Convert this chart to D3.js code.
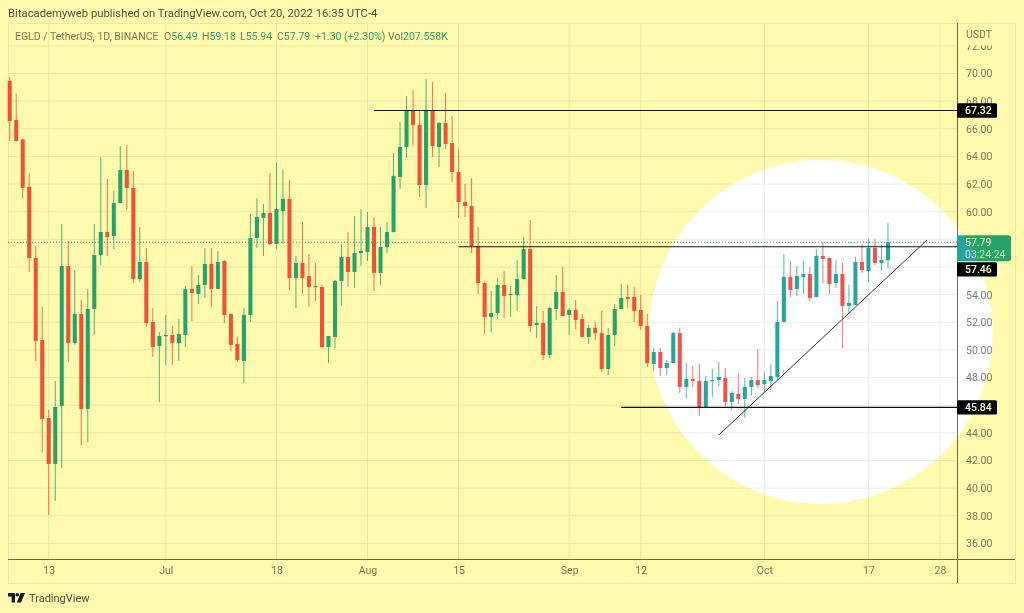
<!DOCTYPE html>
<html>
<head>
<meta charset="utf-8">
<title>EGLD / TetherUS</title>
<script src="https://cdn.jsdelivr.net/npm/d3@7"></script>
<style>
  html, body { margin: 0; padding: 0; background: #fff; }
  svg { display: block; }
  text { font-family: Roboto, "Liberation Sans", sans-serif; }
</style>
</head>
<body>
<svg id="chart" width="1024" height="613"></svg>
<script>
const width = 1024;
const height = 613;
const svg = d3.select("#chart");

const plot = { left: 8, top: 23, right: 957, bottom: 559, frameRight: 1015, frameBottom: 583 };

const upColor = "#26a69a";
const downColor = "#ef5350";
const gridColor = "#e9edf3";
const axisColor = "#6c6a5c";
const textColor = "#787b86";
const fontSize = "10.5px";

// date, open, high, low, close
const candles = [
  ["2022-06-07",69.46,69.75,65.12,66.56],["2022-06-08",66.64,68.52,65.05,65.12],["2022-06-09",65.23,65.30,60.99,61.72],
  ["2022-06-10",61.79,62.80,55.64,56.65],["2022-06-11",56.65,57.52,49.20,50.65],["2022-06-12",50.72,53.11,42.54,45.00],
  ["2022-06-13",45.07,45.65,38.06,41.75],["2022-06-14",41.75,47.75,39.07,45.87],["2022-06-15",45.94,59.11,41.46,56.07],
  ["2022-06-16",56.07,57.88,49.13,50.50],["2022-06-17",50.50,55.78,50.36,52.60],["2022-06-18",52.60,53.61,43.12,45.73],
  ["2022-06-19",45.73,54.41,43.34,52.96],["2022-06-20",52.96,59.11,51.08,56.87],["2022-06-21",56.87,63.96,56.15,58.53],
  ["2022-06-22",58.53,62.37,56.80,58.17],["2022-06-23",58.24,61.50,57.30,60.63],["2022-06-24",60.63,64.76,60.60,63.02],
  ["2022-06-25",63.02,64.83,60.12,61.72],["2022-06-26",61.72,62.95,54.84,55.13],["2022-06-27",55.13,58.89,54.91,56.36],
  ["2022-06-28",56.36,57.38,51.66,51.95],["2022-06-29",52.02,53.03,49.49,50.21],["2022-06-30",50.28,51.30,46.23,51.01],
  ["2022-07-01",51.04,52.53,48.91,51.08],["2022-07-02",51.08,51.73,48.91,50.50],["2022-07-03",50.50,52.24,49.20,51.15],
  ["2022-07-04",51.08,54.63,50.21,54.41],["2022-07-05",54.41,56.07,52.09,54.12],["2022-07-06",54.05,55.42,53.32,54.70],
  ["2022-07-07",54.70,57.38,53.76,56.22],["2022-07-08",56.22,57.38,53.11,54.41],["2022-07-09",54.41,57.16,54.38,56.36],
  ["2022-07-10",56.43,56.50,51.95,52.53],["2022-07-11",52.60,52.66,49.92,50.36],["2022-07-12",50.43,50.94,49.13,49.27],
  ["2022-07-13",49.20,53.03,47.61,52.53],["2022-07-14",52.53,59.84,52.02,58.10],["2022-07-15",58.10,60.99,57.38,59.62],
  ["2022-07-16",59.55,60.56,56.80,59.91],["2022-07-17",59.91,62.80,57.60,57.66],["2022-07-18",57.66,63.53,57.30,60.20],
  ["2022-07-19",60.05,63.02,57.66,60.92],["2022-07-20",60.92,62.30,54.34,55.20],["2022-07-21",55.20,56.80,53.03,56.29],
  ["2022-07-22",56.29,59.26,54.05,55.20],["2022-07-23",55.35,56.94,53.11,54.55],["2022-07-24",54.63,56.29,53.54,54.55],
  ["2022-07-25",54.55,54.70,50.15,50.21],["2022-07-26",50.21,51.01,49.05,51.01],["2022-07-27",50.94,55.06,50.14,54.99],
  ["2022-07-28",54.99,57.66,53.18,56.72],["2022-07-29",56.72,58.53,54.55,55.64],["2022-07-30",55.64,59.69,54.48,57.01],
  ["2022-07-31",57.01,60.20,56.07,57.16],["2022-08-01",57.09,59.98,56.43,58.89],["2022-08-02",58.89,59.62,54.26,55.57],
  ["2022-08-03",55.57,58.89,54.70,57.45],["2022-08-04",57.45,59.26,57.01,58.53],["2022-08-05",58.53,64.25,58.49,62.59],
  ["2022-08-06",62.51,66.49,61.64,64.68],["2022-08-07",64.68,68.37,63.89,67.29],["2022-08-08",67.29,68.81,64.76,66.28],
  ["2022-08-09",66.28,67.36,61.07,61.93],["2022-08-10",61.93,69.60,60.27,67.29],["2022-08-11",67.29,69.39,63.96,64.76],
  ["2022-08-12",64.68,66.49,63.24,66.42],["2022-08-13",66.42,68.59,64.54,64.90],["2022-08-14",64.97,66.93,62.15,62.87],
  ["2022-08-15",62.87,64.54,59.55,60.70],["2022-08-16",60.70,62.01,59.62,60.41],["2022-08-17",60.41,62.44,57.01,57.52],
  ["2022-08-18",57.52,58.89,54.05,54.84],["2022-08-19",54.84,54.90,51.15,52.38],["2022-08-20",52.38,54.26,51.30,52.67],
  ["2022-08-21",52.67,55.20,52.24,54.70],["2022-08-22",54.70,55.71,52.31,53.90],["2022-08-23",53.97,54.63,52.38,54.05],
  ["2022-08-24",53.97,56.50,52.82,55.13],["2022-08-25",55.13,58.17,55.10,57.30],["2022-08-26",57.30,59.40,51.30,51.73],
  ["2022-08-27",51.80,53.18,50.86,51.95],["2022-08-28",51.95,52.82,49.27,49.63],["2022-08-29",49.63,53.11,49.41,53.03],
  ["2022-08-30",52.96,55.42,52.16,54.19],["2022-08-31",54.19,56.00,52.42,52.45],["2022-09-01",52.53,53.03,51.08,52.89],
  ["2022-09-02",52.89,53.61,51.51,52.16],["2022-09-03",52.24,52.60,50.90,50.94],["2022-09-04",50.94,51.80,50.43,51.59],
  ["2022-09-05",51.59,52.02,50.72,51.22],["2022-09-06",51.22,52.82,48.40,48.62],["2022-09-07",48.62,51.59,48.18,51.08],
  ["2022-09-08",51.08,53.32,50.28,52.96],["2022-09-09",52.96,54.77,52.92,53.76],["2022-09-10",53.83,54.70,53.03,53.68],
  ["2022-09-11",53.83,54.55,52.02,52.82],["2022-09-12",52.89,53.97,51.44,51.73],["2022-09-13",51.73,52.60,48.76,49.05],
  ["2022-09-14",48.98,50.14,48.47,49.85],["2022-09-15",49.85,50.14,48.11,48.69],["2022-09-16",48.69,49.27,48.18,49.05],
  ["2022-09-17",49.05,51.30,49.02,51.22],["2022-09-18",51.22,51.59,46.88,47.32],["2022-09-19",47.32,49.05,46.52,47.90],
  ["2022-09-20",47.90,48.84,47.32,47.75],["2022-09-21",47.75,48.98,45.22,45.87],["2022-09-22",45.87,48.11,45.83,47.75],
  ["2022-09-23",47.75,48.62,46.59,47.82],["2022-09-24",47.82,49.13,47.39,48.04],["2022-09-25",47.97,48.69,45.94,46.23],
  ["2022-09-26",46.23,47.03,45.65,46.88],["2022-09-27",46.81,48.26,46.09,46.45],["2022-09-28",46.45,47.97,45.07,47.32],
  ["2022-09-29",47.32,48.04,46.67,47.82],["2022-09-30",47.82,50.07,47.24,47.46],["2022-10-01",47.53,48.40,46.96,47.82],
  ["2022-10-02",47.75,48.98,47.10,48.11],["2022-10-03",48.04,53.54,47.82,52.02],["2022-10-04",52.02,56.94,51.98,55.28],
  ["2022-10-05",55.28,56.43,53.83,54.34],["2022-10-06",54.41,56.07,53.90,55.35],["2022-10-07",55.28,56.43,54.05,55.49],
  ["2022-10-08",55.49,56.00,53.54,53.76],["2022-10-09",53.83,57.30,53.79,56.80],["2022-10-10",56.80,57.81,54.84,56.58],
  ["2022-10-11",56.65,56.70,54.05,54.77],["2022-10-12",54.84,56.50,54.48,55.49],["2022-10-13",55.49,56.29,50.14,53.18],
  ["2022-10-14",53.18,54.70,52.67,53.40],["2022-10-15",53.25,56.72,53.21,56.36],["2022-10-16",56.36,57.66,55.57,55.78],
  ["2022-10-17",55.71,58.03,54.91,57.38],["2022-10-18",57.38,58.03,56.15,56.29],["2022-10-19",56.29,57.59,55.71,56.50],
  ["2022-10-20",56.49,59.18,55.94,57.79]
].map(d => ({ date: new Date(d[0] + "T00:00:00Z"), open: d[1], high: d[2], low: d[3], close: d[4] }));

const day = s => new Date(s + "T00:00:00Z");

const x = d3.scaleUtc().domain([day("2022-06-07"), day("2022-10-28")]).range([9.7, 940]);
const y = d3.scaleLinear().domain([36, 70]).range([543.4, 73.5]);

const xTicks = ["2022-06-13", "2022-07-01", "2022-07-18", "2022-08-01", "2022-08-15", "2022-09-01", "2022-09-12", "2022-10-01", "2022-10-17", "2022-10-28"].map(day);
const yTicks = d3.range(36, 73, 2);
// these tick labels sit behind the price tags
const hiddenLabels = [46, 56, 58];

svg.append("rect").attr("width", width).attr("height", height).attr("fill", "#fff");

// frame around the pane and the axes
svg.append("rect")
  .attr("x", plot.left + 0.5).attr("y", plot.top + 0.5)
  .attr("width", plot.frameRight - plot.left).attr("height", plot.frameBottom - plot.top)
  .attr("fill", "none").attr("stroke", gridColor);

// grid
const grid = svg.append("g");
grid.selectAll("line.h").data(yTicks).enter().append("line")
  .attr("class", "h")
  .attr("x1", plot.left).attr("x2", plot.right)
  .attr("y1", d => y(d)).attr("y2", d => y(d))
  .attr("stroke", gridColor);
grid.selectAll("line.v").data(xTicks).enter().append("line")
  .attr("class", "v")
  .attr("x1", d => x(d)).attr("x2", d => x(d))
  .attr("y1", plot.top).attr("y2", plot.bottom)
  .attr("stroke", gridColor);

// last price line
svg.append("line")
  .attr("x1", plot.left).attr("x2", plot.right)
  .attr("y1", y(57.79)).attr("y2", y(57.79))
  .attr("stroke", upColor).attr("stroke-dasharray", "1,2");

// candles
const barWidth = (x(day("2022-06-08")) - x(day("2022-06-07"))) * 0.62;
const candle = svg.append("g").selectAll("g").data(candles).enter().append("g")
  .attr("fill", d => d.close >= d.open ? upColor : downColor)
  .attr("stroke", d => d.close >= d.open ? upColor : downColor);

candle.append("line")
  .attr("x1", d => x(d.date)).attr("x2", d => x(d.date))
  .attr("y1", d => y(d.high)).attr("y2", d => y(d.low))
  .attr("stroke-width", 1)
  .attr("stroke-opacity", 0.8);

candle.append("rect")
  .attr("x", d => x(d.date) - barWidth / 2)
  .attr("width", barWidth)
  .attr("y", d => y(Math.max(d.open, d.close)))
  .attr("height", d => Math.max(1.2, Math.abs(y(d.open) - y(d.close))))
  .attr("stroke", "none");

// drawn levels and trend line
const levels = [
  { price: 67.32, from: "2022-08-02" },
  { price: 57.46, from: "2022-08-15" },
  { price: 45.84, from: "2022-09-09" }
];
svg.selectAll("line.level").data(levels).enter().append("line")
  .attr("class", "level")
  .attr("x1", d => x(day(d.from))).attr("x2", plot.right)
  .attr("y1", d => y(d.price)).attr("y2", d => y(d.price))
  .attr("stroke", "#111").attr("stroke-width", 1.1);

svg.append("line")
  .attr("x1", x(day("2022-09-24"))).attr("y1", y(43.84))
  .attr("x2", x(day("2022-10-26"))).attr("y2", y(57.95))
  .attr("stroke", "#333").attr("stroke-width", 1);

// axes
svg.append("clipPath").attr("id", "yclip").append("rect")
  .attr("x", 0).attr("y", 45.5).attr("width", 66).attr("height", 515);

const yAxis = svg.append("g")
  .attr("transform", `translate(${plot.right},0)`)
  .attr("clip-path", "url(#yclip)")
  .call(d3.axisRight(y).tickValues(yTicks)
    .tickFormat(d => hiddenLabels.includes(d) ? "" : d.toFixed(2))
    .tickSize(0).tickPadding(9));
yAxis.select(".domain").remove();
yAxis.selectAll("text").attr("fill", textColor).style("font-size", fontSize).style("font-family", "Roboto");

const monthName = d3.utcFormat("%b");
const xAxis = svg.append("g")
  .attr("transform", `translate(0,${plot.bottom})`)
  .call(d3.axisBottom(x).tickValues(xTicks)
    .tickFormat(d => d.getUTCDate() === 1 ? monthName(d) : d.getUTCDate())
    .tickSize(0).tickPadding(8));
xAxis.select(".domain").remove();
xAxis.selectAll("text").attr("fill", textColor).style("font-size", fontSize).style("font-family", "Roboto");

svg.append("line").attr("x1", plot.left).attr("x2", plot.frameRight)
  .attr("y1", plot.bottom + 0.5).attr("y2", plot.bottom + 0.5).attr("stroke", axisColor);
svg.append("line").attr("x1", plot.right + 0.5).attr("x2", plot.right + 0.5)
  .attr("y1", plot.top).attr("y2", plot.frameBottom).attr("stroke", axisColor);

svg.append("text").attr("x", 966).attr("y", 38).attr("fill", textColor).style("font-size", fontSize).text("USDT");

// price tags on the axis; the 57.46 tag gets pushed down below the last price tag
const tags = [
  { price: 67.32, shift: 0 },
  { price: 57.46, shift: 22.6 },
  { price: 45.84, shift: 0 }
];
const tag = svg.selectAll("g.tag").data(tags).enter().append("g").attr("class", "tag")
  .attr("transform", d => `translate(${plot.right},${y(d.price) + d.shift})`);
tag.append("rect")
  .attr("x", 0).attr("width", 40)
  .attr("y", -7.2).attr("height", 14.4)
  .attr("rx", 1.5).attr("fill", "#000");
tag.append("text")
  .attr("x", 8).attr("y", 3.8)
  .attr("fill", "#fff").style("font-size", fontSize).style("font-weight", 500)
  .text(d => d.price.toFixed(2));

const lastY = y(57.79);
svg.append("path")
  .attr("d", `M${plot.right},${lastY - 7}h51a3,3 0 0 1 3,3v20a3,3 0 0 1 -3,3h-51z`)
  .attr("fill", upColor);
svg.append("text").attr("x", plot.right + 8).attr("y", lastY + 3.6)
  .attr("fill", "#fff").style("font-size", fontSize).text("57.79");
svg.append("text").attr("x", plot.right + 8).attr("y", lastY + 15.8)
  .attr("fill", "#fff").attr("fill-opacity", 0.75).style("font-size", fontSize).text("03:24:24");

// header and legend
svg.append("text").attr("x", 8).attr("y", 17).attr("fill", "#50535e")
  .style("font-size", "11.3px").text("Bitacademyweb published on TradingView.com, Oct 20, 2022 16:35 UTC-4");

svg.append("text").attr("x", 15).attr("y", 40).attr("fill", textColor)
  .style("font-size", fontSize).text("EGLD / TetherUS, 1D, BINANCE");

const legend = [
  { x: 164, label: "O", value: "56.49" },
  { x: 202, label: "H", value: "59.18" },
  { x: 240, label: "L", value: "55.94" },
  { x: 277, label: "C", value: "57.79" },
  { x: 315, label: "", value: "+1.30 (+2.30%)" },
  { x: 388, label: "Vol", value: "207.558K" }
];
const legendText = svg.selectAll("text.legend").data(legend).enter().append("text")
  .attr("class", "legend")
  .attr("x", d => d.x).attr("y", 40)
  .style("font-size", fontSize);
legendText.append("tspan").attr("fill", textColor).text(d => d.label);
legendText.append("tspan").attr("fill", upColor).text(d => d.value);

// TradingView mark
const logo = svg.append("g").attr("transform", "translate(8,593)").attr("fill", "#131722");
logo.append("path").attr("d", "M0 0h7v9.5h-3.4v-6h-3.6z");
logo.append("circle").attr("cx", 9.3).attr("cy", 1.8).attr("r", 1.8);
logo.append("path").attr("d", "M12.6 0h4.4l-4 9.5h-4.2z");
svg.append("text").attr("x", 29).attr("y", 602).attr("fill", "#4c525e")
  .style("font-size", "11px").text("TradingView");

// yellow highlighter over the whole shot with a round hole
const circle = { cx: 821, cy: 332, r: 172 };
svg.append("path")
  .attr("d", `M0,0H${width}V${height}H0Z M${circle.cx - circle.r},${circle.cy}a${circle.r},${circle.r} 0 1 0 ${circle.r * 2},0a${circle.r},${circle.r} 0 1 0 ${-circle.r * 2},0Z`)
  .attr("fill", "#fffaae")
  .attr("fill-rule", "evenodd")
  .style("mix-blend-mode", "multiply");
</script>
</body>
</html>
